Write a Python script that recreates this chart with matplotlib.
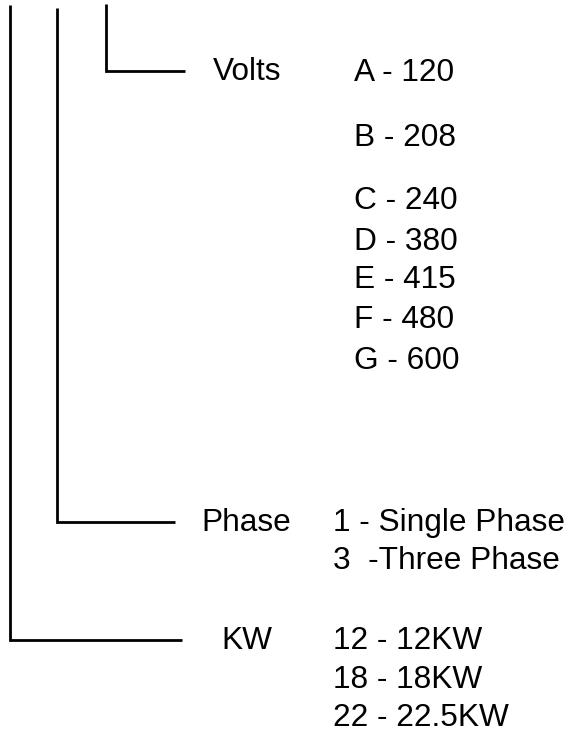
import matplotlib.pyplot as plt

plt.rcParams['font.family'] = ['Liberation Sans', 'DejaVu Sans']

# the three code fields of the model number, top to bottom
fields = ['Volts', 'Phase', 'KW']
volts_options = ['A - 120', 'B - 208', 'C - 240', 'D - 380', 'E - 415', 'F - 480', 'G - 600']
phase_options = ['1 - Single Phase', '3  -Three Phase']
kw_options = ['12 - 12KW', '18 - 18KW', '22 - 22.5KW']
options = [volts_options, phase_options, kw_options]

# layout in pixels (image coordinates, y down)
W, H = 569, 734
stem_x = [106, 57, 10]        # vertical leader of each field
stem_top = [4, 8, 5]
elbow_y = [71, 522, 640]      # where the leader turns right
elbow_end = [185, 175, 182]
label_x = [213, 201, 221]
option_x = [354, 333, 333]
option_y = [[70, 135, 198, 239, 277, 317, 358],
            [520, 558],
            [638, 677, 715]]

fig = plt.figure(figsize=(W / 100, H / 100), dpi=100)
ax = fig.add_axes([0, 0, 1, 1])
ax.set_xlim(0, W)
ax.set_ylim(H, 0)
ax.axis('off')

fs = 22.8
half_cap = 11  # text centre to baseline

for i, name in enumerate(fields):
    ax.plot([stem_x[i], stem_x[i], elbow_end[i]],
            [stem_top[i], elbow_y[i], elbow_y[i]],
            color='black', lw=2.0, solid_joinstyle='miter', solid_capstyle='butt')
    ax.text(label_x[i], elbow_y[i] - 2 + half_cap, name, fontsize=fs,
            ha='left', va='baseline', color='black')
    for txt, y in zip(options[i], option_y[i]):
        ax.text(option_x[i], y + half_cap, txt, fontsize=fs,
                ha='left', va='baseline', color='black')

fig.savefig('out.png', dpi=100, facecolor='white')
plt.close(fig)
